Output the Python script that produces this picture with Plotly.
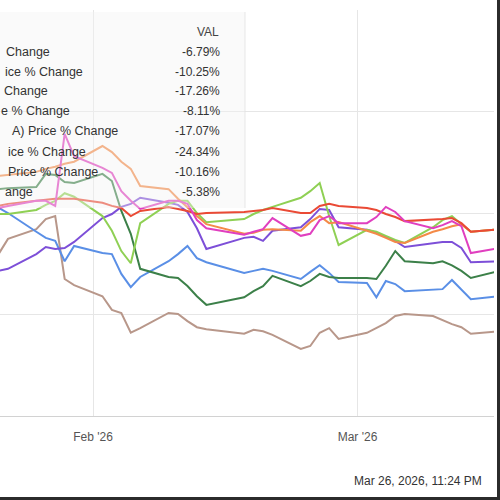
import plotly.graph_objects as go

# ---- data ----
dates = ["2026-01-22", "2026-01-23", "2026-01-26", "2026-01-27", "2026-01-28", "2026-01-29", "2026-01-30",
         "2026-02-02", "2026-02-03", "2026-02-04", "2026-02-05", "2026-02-06", "2026-02-09", "2026-02-10",
         "2026-02-11", "2026-02-12", "2026-02-13", "2026-02-17", "2026-02-18", "2026-02-19", "2026-02-20",
         "2026-02-23", "2026-02-24", "2026-02-25", "2026-02-26", "2026-02-27", "2026-03-02", "2026-03-03",
         "2026-03-04", "2026-03-05", "2026-03-06", "2026-03-09", "2026-03-10", "2026-03-11", "2026-03-12",
         "2026-03-13", "2026-03-16"]

brown = [-8.1, -5.1, -3.2, -1.2, -0.6, -13.0, -14.2, -16.4, -19.1, -19.7, -23.6, -22.7, -19.7, -19.9, -21.3,
         -22.5, -22.9, -23.8, -23.0, -23.3, -24.0, -26.8, -26.2, -23.6, -22.7, -24.8, -23.6, -22.7, -21.7,
         -20.3, -19.9, -20.3, -21.1, -21.9, -22.5, -23.8, -23.3]
blue = [1.0, 0.0, -3.7, -4.9, -5.5, -9.5, -6.5, -7.9, -8.1, -12.0, -14.6, -12.6, -9.5, -8.1, -6.5, -8.9, -9.7,
        -11.8, -11.4, -11.0, -11.4, -13.0, -11.6, -10.3, -11.8, -13.6, -13.8, -16.6, -13.4, -14.0, -15.4,
        -15.2, -15.0, -13.2, -15.0, -17.0, -16.4]
dark_green = [4.7, 4.9, 5.1, 7.7, 7.5, 6.1, 5.9, 7.7, 6.3, 0.4, -4.1, -11.0, -12.6, -12.8, -14.4, -16.4, -18.1,
              -16.6, -15.4, -14.4, -12.4, -14.4, -13.4, -12.0, -12.6, -12.8, -12.8, -13.0, -10.4, -7.5, -9.5,
              -9.9, -9.5, -10.3, -11.4, -12.8, -11.4]
purple = [-11.4, -11.0, -8.1, -6.7, -7.1, -6.9, -5.7, -1.0, -0.2, 1.2, 1.8, 3.0, 2.0, 1.6, 0.2, -3.0, -7.1,
          -4.9, -4.7, -5.5, -3.5, -2.8, -1.2, 0.8, 0.6, -2.8, -3.3, -3.9, -4.7, -5.5, -6.7, -5.9, -5.7, -5.7,
          -6.9, -9.7, -9.5]
light_green = [-0.2, -0.2, 0.6, 1.6, 2.4, 3.9, 3.2, -0.6, -3.5, -7.5, -9.9, -2.0, 1.8, 2.4, 2.4, 0.0, -1.8,
               -1.2, -0.2, 0.6, 1.2, 3.0, 4.3, 5.9, -0.6, -6.3, -3.3, -3.7, -4.5, -5.3, -5.9, -2.8, -1.4, -0.6,
               -2.2, -3.7, -3.2]
orange = [7.3, 7.5, 8.1, 8.7, 9.1, 9.7, 10.1, 13.2, 12.0, 10.1, 8.7, 5.3, 4.7, 2.8, 1.0, -0.6, -2.2, -4.1,
          -3.9, -3.3, -3.2, -3.5, -1.8, -0.6, -2.0, -1.8, -3.5, -4.1, -4.9, -5.7, -5.9, -3.7, -3.2, -2.6, -2.2,
          -3.7, -3.2]
red = [1.4, 1.8, 2.4, 2.6, 2.8, 2.8, 2.8, 2.0, 1.4, 1.0, -0.6, 0.4, 1.2, 0.8, 0.4, -0.2, 0.0, 0.2, 0.4, 0.6,
       1.0, 0.0, 0.0, 1.4, 1.8, 1.4, 1.0, 0.6, -0.2, -0.8, -1.6, -1.4, -1.2, -1.0, -2.0, -3.7, -3.2]
magenta = [1.0, 1.4, 2.4, 2.4, 1.4, 15.6, 11.2, 8.9, 7.9, 4.3, 2.4, 0.8, 2.4, 2.4, 1.8, -1.4, -3.0, -4.3,
           -3.7, -3.2, -1.0, -4.5, -4.1, -1.4, -0.6, -2.0, -2.0, -0.8, 1.2, 0.2, -1.6, -3.0, -2.4, -1.6, -2.6,
           -7.9, -6.9]

legend_header = "VAL"
legend_names = ["Change", "ice % Change", "Change", "e % Change", "A) Price % Change",
                "ice % Change", "Price % Change", "ange"]
legend_values = ["-6.79%", "-10.25%", "-17.26%", "-8.11%", "-17.07%", "-24.34%", "-10.16%", "-5.38%"]
timestamp = "Mar 26, 2026, 11:24 PM"

# ---- styling / layout ----
W, H = 500, 500
ML, MR, MT, MB = 0, 6, 10, 84
PW, PH = W - ML - MR, H - MT - MB


def px(x):
    return (x - ML) / PW


def py(y):
    return (H - MB - y) / PH


series = [
    (brown, "#b8978a"),
    (blue, "#5a8fe6"),
    (dark_green, "#3c8049"),
    (purple, "#7d4fd8"),
    (light_green, "#8fd054"),
    (orange, "#f48a48"),
    (red, "#ea4a35"),
    (magenta, "#e03fbf"),
]

fig = go.Figure()
for vals, col in series:
    fig.add_trace(go.Scatter(x=dates, y=vals, mode="lines",
                             line=dict(color=col, width=2), hoverinfo="skip", showlegend=False))

font_family = "Arial, Liberation Sans, sans-serif"
shapes = [
    # translucent legend panel
    dict(type="rect", xref="paper", yref="paper", x0=px(0), x1=px(245), y0=py(208), y1=py(12),
         fillcolor="rgba(243,243,243,0.4)", line=dict(width=0), layer="above"),
    dict(type="line", xref="paper", yref="paper", x0=px(245), x1=px(245), y0=py(208), y1=py(12),
         line=dict(color="rgba(225,225,225,0.8)", width=1), layer="above"),
    # screenshot frame
    dict(type="line", xref="paper", yref="paper", x0=px(498.5), x1=px(498.5), y0=py(500), y1=py(0),
         line=dict(color="#2b2b2b", width=3), layer="above"),
    dict(type="line", xref="paper", yref="paper", x0=px(0), x1=px(500), y0=py(498.5), y1=py(498.5),
         line=dict(color="#2b2b2b", width=3), layer="above"),
]

annotations = [dict(text=legend_header, xref="paper", yref="paper", x=px(221), y=py(32),
                    xanchor="right", yanchor="middle", showarrow=False,
                    font=dict(size=12, color="#444", family=font_family))]
name_right = [52, 85, 50, 72, 120, 88, 100, 35]
row_y = [52, 72, 91, 111, 131, 152, 172, 192]
for name, val, xr, yy in zip(legend_names, legend_values, name_right, row_y):
    annotations.append(dict(text=name, xref="paper", yref="paper", x=px(xr), y=py(yy),
                            xanchor="right", yanchor="middle", showarrow=False,
                            font=dict(size=12.5, color="#333", family=font_family)))
    annotations.append(dict(text=val, xref="paper", yref="paper", x=px(222), y=py(yy),
                            xanchor="right", yanchor="middle", showarrow=False,
                            font=dict(size=12, color="#333", family=font_family)))
annotations.append(dict(text=timestamp, xref="paper", yref="paper", x=px(352), y=py(481),
                        xanchor="left", yanchor="middle", showarrow=False,
                        font=dict(size=12, color="#333", family=font_family)))

fig.update_layout(
    width=W, height=H,
    margin=dict(l=ML, r=MR, t=MT, b=MB, pad=0),
    paper_bgcolor="white", plot_bgcolor="white",
    showlegend=False, hovermode=False,
    shapes=shapes, annotations=annotations,
    xaxis=dict(type="date", range=["2026-01-22 03:43", "2026-03-15 10:50"],
               tick0="2026-01-01", dtick="M1", tickformat="%b '%y",
               showgrid=True, gridcolor="#e6e6e6", gridwidth=1,
               showline=True, linecolor="#d2d2d2", linewidth=1,
               ticks="", ticklabelstandoff=10,
               tickfont=dict(size=12, color="#555", family=font_family),
               zeroline=False, fixedrange=True),
    yaxis=dict(range=[-40, 40], dtick=20, tick0=0, showticklabels=False,
               showgrid=True, gridcolor="#e6e6e6", gridwidth=1,
               zeroline=False, showline=False, fixedrange=True),
)

fig.write_html("out.html", config={"displayModeBar": False},
               post_script="document.body.style.margin='0';document.body.style.overflow='hidden';")
